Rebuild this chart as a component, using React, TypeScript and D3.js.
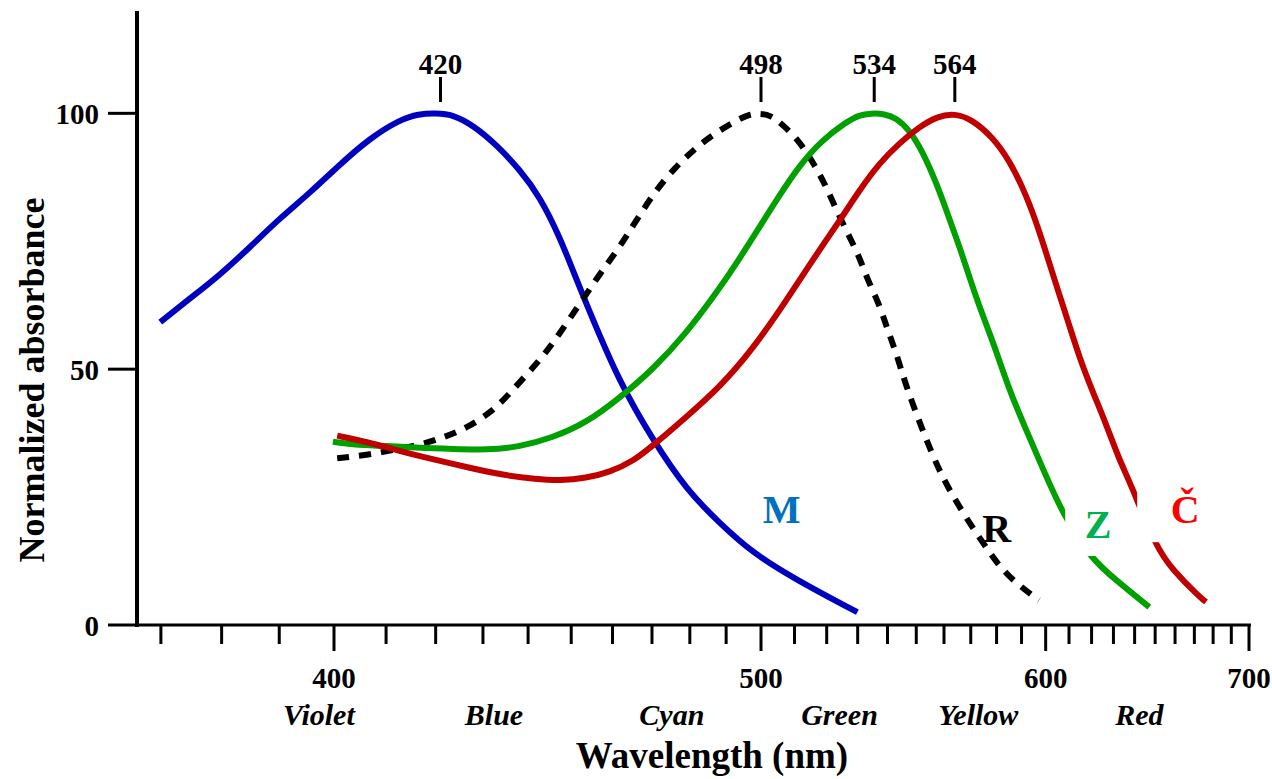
import React from 'react';
import * as d3 from 'd3';

// wavelength (nm) and normalized absorbance
const blueNm = [369.9, 374.8, 379.7, 384.9, 390.2, 395.6, 401.1, 406.9, 412.8, 416.5, 420, 423.5, 428.0, 433.0, 438.1, 442.7, 447.3, 450.4, 453.7, 461.8, 470.2, 479.1, 488.2, 497.5, 510.6, 529.9];
const blueVal = [59.2, 63.9, 68.4, 73.9, 79.6, 84.5, 90.0, 95.2, 98.8, 99.9, 100, 99.8, 97.6, 93.8, 89.0, 83.7, 75.8, 69.3, 62.6, 47.3, 36.2, 26.4, 19.9, 14.1, 8.8, 2.5];

const rodNm = [400.6, 406.3, 411.3, 416.8, 421.5, 426.5, 431.5, 435.2, 439.2, 443.1, 446.8, 457.0, 461.0, 464.3, 467.6, 471.1, 475.9, 481.2, 486.2, 492.3, 496.5, 499.6, 503.0, 506.4, 511.6, 516.2, 519.9, 523.1, 526.7, 530.6, 533.3, 537.3, 540.0, 543.0, 546.2, 551.8, 555.4, 559.1, 563.1, 568.3, 574.0, 579.8, 586.2, 595.2, 597.3];
const rodVal = [32.6, 33.2, 34.2, 35.2, 36.6, 38.5, 41.4, 44.6, 48.5, 52.2, 56.3, 68.8, 73.0, 77.0, 81.0, 85.0, 89.3, 93.0, 95.8, 98.4, 99.8, 100, 99.6, 97.8, 94.5, 89.9, 85.6, 81.1, 76.6, 71.9, 67.4, 62.6, 57.7, 53.2, 47.0, 38.7, 33.8, 29.3, 25.4, 20.9, 16.6, 12.3, 8.8, 5.5, 4.9];

const greenNm = [399.8, 403.6, 410.2, 416.8, 423.6, 430.8, 438.1, 445.6, 453.6, 461.8, 470.2, 479.1, 487.3, 493.8, 499.6, 505.5, 511.6, 518.6, 526.3, 530.5, 534.5, 539.0, 543.0, 547.5, 552.2, 557.2, 560.9, 565.7, 569.5, 573.3, 578.3, 582.3, 586.2, 591.9, 598.5, 607.0, 620.2, 631.2, 647.1];
const greenVal = [35.8, 35.2, 35.0, 34.6, 34.4, 34.2, 34.8, 36.6, 39.5, 44.4, 49.9, 57.1, 64.9, 71.6, 77.8, 84.0, 89.9, 94.8, 98.3, 99.7, 100, 99.9, 99.1, 96.8, 92.6, 86.4, 81.0, 74.0, 68.0, 62.2, 55.7, 49.9, 44.6, 38.1, 30.9, 21.9, 12.7, 8.8, 3.5];

const redNm = [400.6, 406.3, 413.3, 420.0, 427.2, 434.3, 441.9, 447.3, 453.6, 459.3, 465.1, 471.1, 479.1, 488.2, 497.5, 507.6, 513.6, 519.9, 525.0, 530.6, 537.3, 544.1, 551.2, 557.5, 564, 570.5, 578.3, 585.0, 591.9, 597.3, 601.5, 605.8, 610.1, 614.5, 620.2, 626.4, 632.7, 637.4, 650.4, 658.7, 672.6, 676.2];
const redVal = [37.0, 35.8, 33.8, 32.3, 30.7, 29.3, 28.5, 28.2, 28.7, 29.9, 31.9, 35.6, 40.7, 46.5, 53.8, 63.5, 69.4, 75.3, 79.8, 85.0, 90.3, 94.2, 97.4, 99.4, 100, 98.8, 95.4, 90.9, 84.1, 77.0, 70.8, 64.6, 58.6, 52.4, 45.9, 39.5, 32.3, 28.3, 15.2, 10.8, 5.5, 4.5];

const peakLabels = ['420', '498', '534', '564'];
const peakAt = [421, 500, 535.5, 564];

const yTicks = [0, 50, 100];
const xMajor = [400, 500, 600, 700];
const xMinor = d3.range(370, 701, 10);

const colorNames = ['Violet', 'Blue', 'Cyan', 'Green', 'Yellow', 'Red'];
const colorNameAt = [397.2, 432.4, 475.2, 524.1, 572.9, 642.3];

const curveNames = ['M', 'R', 'Z', 'Č'];
const curveNameNm = [506.1, 580.0, 623.0, 665.2];
const curveNameVal = [19.9, 16.2, 17.0, 19.9];

const SERIF = '"Liberation Serif", "Times New Roman", serif';

export default function App() {
  const width = 1272;
  const height = 779;

  // the axis is linear in 1/wavelength
  const inv = d3.scaleLinear().domain([1 / 400, 1 / 700]).range([334, 1249]);
  const x = (nm: number) => inv(1 / nm);
  const y = d3.scaleLinear().domain([0, 120]).range([625, 11]);

  const line = d3
    .line<[number, number]>()
    .x((d) => x(d[0]))
    .y((d) => y(d[1]))
    .curve(d3.curveBasis);

  const zip = (a: number[], b: number[]) => a.map((v, i) => [v, b[i]] as [number, number]);

  const series = [
    { d: zip(blueNm, blueVal), color: '#0000c0', dash: null },
    { d: zip(rodNm, rodVal), color: '#000000', dash: '12 10' },
    { d: zip(greenNm, greenVal), color: '#00a000', dash: null },
    { d: zip(redNm, redVal), color: '#c00000', dash: null },
  ];

  const nameStyle = [
    { fill: '#0070c0', box: [-40, -38, 80, 50] },
    { fill: '#000000', box: null },
    { fill: '#00b050', box: [-33, -33, 64, 51] },
    { fill: '#ff0000', box: [-48, -45, 80, 64] },
  ];

  return (
    <svg
      width={width}
      height={height}
      style={{ position: 'absolute', left: 0, top: 0, background: '#fff' }}
      fontFamily={SERIF}
      fontWeight="bold"
    >
      {series.map((s, i) => (
        <path
          key={i}
          d={line(s.d) || ''}
          fill="none"
          stroke={s.color}
          strokeWidth={6}
          strokeDasharray={s.dash || undefined}
        />
      ))}

      {/* curve letters with their white boxes */}
      {curveNames.map((n, i) => {
        const cx = x(curveNameNm[i]);
        const cy = y(curveNameVal[i]);
        const st = nameStyle[i];
        return (
          <g key={n}>
            {st.box && (
              <rect x={cx + st.box[0]} y={cy + st.box[1]} width={st.box[2]} height={st.box[3]} fill="#fff" />
            )}
            <text x={cx} y={cy} textAnchor="middle" fontSize={40} fill={st.fill}>
              {n}
            </text>
          </g>
        );
      })}

      {/* axes */}
      <line x1={137} x2={137} y1={y(120)} y2={y(0) + 2} stroke="#000" strokeWidth={4} />
      <line x1={135} x2={x(700) + 2} y1={y(0)} y2={y(0)} stroke="#000" strokeWidth={3} />

      {yTicks.map((t) => (
        <g key={t}>
          <line x1={108} x2={137} y1={y(t)} y2={y(t)} stroke="#000" strokeWidth={3} />
          <text x={99} y={y(t) + 11} textAnchor="end" fontSize={29}>
            {t}
          </text>
        </g>
      ))}

      {xMinor.map((t) => (
        <line
          key={t}
          x1={x(t)}
          x2={x(t)}
          y1={y(0)}
          y2={xMajor.includes(t) ? y(0) + 26 : y(0) + 19}
          stroke="#000"
          strokeWidth={3}
        />
      ))}
      {xMajor.map((t) => (
        <text key={t} x={x(t)} y={688} textAnchor="middle" fontSize={29}>
          {t}
        </text>
      ))}
      {colorNames.map((c, i) => (
        <text key={c} x={x(colorNameAt[i])} y={725} textAnchor="middle" fontSize={30} fontStyle="italic">
          {c}
        </text>
      ))}

      {/* peak markers */}
      {peakLabels.map((p, i) => (
        <g key={p}>
          <line x1={x(peakAt[i])} x2={x(peakAt[i])} y1={77} y2={102} stroke="#000" strokeWidth={3} />
          <text x={x(peakAt[i])} y={74} textAnchor="middle" fontSize={29}>
            {p}
          </text>
        </g>
      ))}

      <text x={712} y={768} textAnchor="middle" fontSize={37}>
        Wavelength (nm)
      </text>
      <text transform="translate(44,380) rotate(-90)" textAnchor="middle" fontSize={36}>
        Normalized absorbance
      </text>
    </svg>
  );
}
